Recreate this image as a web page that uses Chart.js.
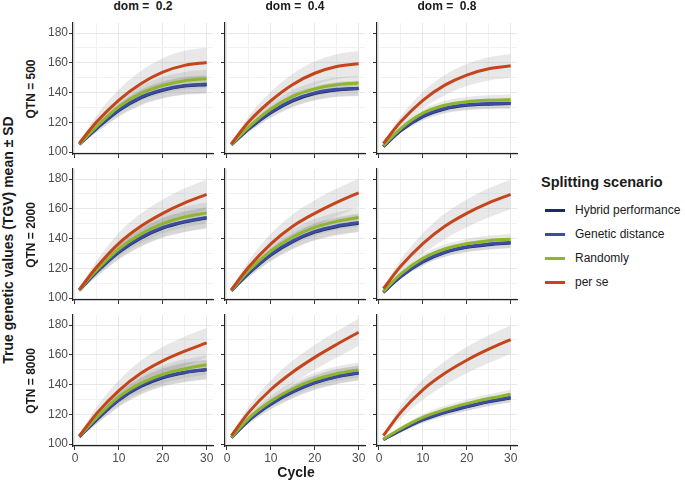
<!DOCTYPE html>
<html><head><meta charset="utf-8">
<script src="https://cdn.jsdelivr.net/npm/chart.js@4.4.1/dist/chart.umd.min.js"></script>
<style>
html,body{margin:0;padding:0;background:#fff;}
body{width:685px;height:482px;position:relative;overflow:hidden;font-family:"Liberation Sans",Arial,sans-serif;}
canvas{position:absolute;}
.t{position:absolute;white-space:pre;color:#1a1a1a;}
.key{position:absolute;height:3px;width:20px;}
</style></head><body>
<script>
// ---- data ----
const cycles = [1, 5, 10, 15, 20, 25, 30];
const scenarios = ['Hybrid performance', 'Genetic distance', 'Randomly', 'per se'];
const domLevels = ['0.2', '0.4', '0.8'];
const qtnLevels = ['500', '2000', '8000'];
const xTicks = [0, 5, 10, 15, 20, 25, 30];
const yTicks = [100, 110, 120, 130, 140, 150, 160, 170, 180];

// QTN = 500
const hp_500_02 = [105.2, 116.0, 128.0, 136.5, 141.6, 144.4, 145.3];
const gd_500_02 = [105.3, 116.3, 128.5, 137.0, 142.0, 144.8, 145.7];
const rd_500_02 = [105.5, 117.5, 130.5, 139.5, 144.8, 148.0, 149.3];
const ps_500_02 = [106.0, 120.5, 135.0, 146.0, 153.8, 158.3, 160.3];
const sdP_500_02 = [1, 4.5, 7, 8.5, 9.3, 9.8, 10];
const sdO_500_02 = [0.6, 2.7, 4.2, 5.1, 5.6, 5.9, 6];

const hp_500_04 = [104.8, 115.7, 126.5, 134.5, 139.4, 141.8, 142.7];
const gd_500_04 = [104.9, 116.0, 127.0, 135.0, 139.8, 142.2, 143.0];
const rd_500_04 = [105.0, 117.0, 129.0, 137.5, 142.5, 145.3, 146.4];
const ps_500_04 = [105.6, 120.5, 134.5, 145.5, 153.0, 157.5, 159.4];
const sdP_500_04 = [0.9, 3.8, 6, 7.2, 7.9, 8.3, 8.5];
const sdO_500_04 = [0.5, 2.3, 3.5, 4.3, 4.7, 4.9, 5];

const hp_500_08 = [103.6, 114.4, 123.8, 129.0, 131.4, 132.2, 132.6];
const gd_500_08 = [103.8, 114.7, 124.3, 129.5, 131.8, 132.6, 132.9];
const rd_500_08 = [104.3, 116.0, 126.2, 131.5, 133.8, 134.8, 135.2];
const ps_500_08 = [105.8, 120.5, 134.8, 145.0, 151.8, 156.0, 158.0];
const sdP_500_08 = [0.8, 3.6, 5.6, 6.8, 7.4, 7.8, 8];
const sdO_500_08 = [0.4, 1.6, 2.5, 3, 3.3, 3.4, 3.5];

// QTN = 2000
const hp_2000_02 = [105.2, 117.7, 130.8, 140.3, 147.0, 151.1, 153.8];
const gd_2000_02 = [105.3, 118.0, 131.3, 140.8, 147.5, 151.5, 154.2];
const rd_2000_02 = [105.5, 119.0, 133.0, 143.0, 150.0, 154.5, 157.3];
const ps_2000_02 = [105.8, 121.0, 136.8, 148.3, 157.0, 164.0, 169.7];
const sdP_2000_02 = [1, 4.5, 7, 8.5, 9.3, 9.8, 10];
const sdO_2000_02 = [0.7, 3.2, 4.9, 6, 6.5, 6.9, 7];

const hp_2000_04 = [104.9, 116.7, 129.0, 138.0, 144.3, 148.0, 150.3];
const gd_2000_04 = [105.0, 117.0, 129.5, 138.5, 144.8, 148.5, 150.8];
const rd_2000_04 = [105.2, 118.7, 131.7, 141.1, 147.5, 151.6, 154.2];
const ps_2000_04 = [105.6, 121.0, 136.5, 148.3, 157.0, 164.4, 170.8];
const sdP_2000_04 = [1, 4.3, 6.7, 8.1, 8.8, 9.3, 9.5];
const sdO_2000_04 = [0.6, 2.7, 4.2, 5.1, 5.6, 5.9, 6];

const hp_2000_08 = [103.9, 114.5, 124.3, 130.6, 134.1, 135.9, 137.0];
const gd_2000_08 = [104.0, 114.8, 124.7, 131.0, 134.5, 136.3, 137.3];
const rd_2000_08 = [104.5, 116.2, 126.7, 133.0, 136.5, 138.6, 139.6];
const ps_2000_08 = [106.3, 121.5, 136.6, 148.3, 157.0, 164.0, 169.7];
const sdP_2000_08 = [1, 4.5, 7, 8.5, 9.3, 9.8, 10];
const sdO_2000_08 = [0.4, 1.6, 2.5, 3, 3.3, 3.4, 3.5];

// QTN = 8000
const hp_8000_02 = [104.9, 116.5, 129.6, 138.7, 144.6, 148.0, 150.0];
const gd_8000_02 = [105.0, 116.8, 130.0, 139.2, 145.0, 148.3, 150.3];
const rd_8000_02 = [105.2, 118.1, 131.7, 140.8, 146.8, 150.6, 153.3];
const ps_8000_02 = [105.4, 120.8, 136.0, 147.6, 156.0, 162.5, 168.0];
const sdP_8000_02 = [1, 4.5, 7, 8.5, 9.3, 9.8, 10];
const sdO_8000_02 = [0.7, 2.9, 4.6, 5.5, 6, 6.4, 6.5];

const hp_8000_04 = [104.3, 116.0, 126.8, 135.0, 141.1, 145.2, 147.7];
const gd_8000_04 = [104.4, 116.3, 127.3, 135.5, 141.5, 145.5, 148.0];
const rd_8000_04 = [104.6, 117.5, 128.8, 137.2, 143.3, 147.3, 149.9];
const ps_8000_04 = [105.7, 121.5, 136.7, 148.5, 158.3, 167.0, 175.2];
const sdP_8000_04 = [0.9, 4, 6.3, 7.7, 8.4, 8.8, 9];
const sdO_8000_04 = [0.5, 2.3, 3.5, 4.3, 4.7, 4.9, 5];

const hp_8000_08 = [103.0, 109.2, 116.2, 121.2, 125.0, 128.4, 131.0];
const gd_8000_08 = [103.1, 109.5, 116.6, 121.6, 125.3, 128.7, 131.3];
const rd_8000_08 = [103.3, 110.5, 118.0, 123.1, 127.2, 130.6, 133.5];
const ps_8000_08 = [105.7, 121.5, 136.5, 147.6, 156.4, 163.8, 170.3];
const sdP_8000_08 = [1, 4.3, 6.7, 8.1, 8.8, 9.3, 9.5];
const sdO_8000_08 = [0.3, 1.4, 2.1, 2.6, 2.8, 2.9, 3];

const panelData = [
  [[hp_500_02, gd_500_02, rd_500_02, ps_500_02, sdO_500_02, sdP_500_02],
   [hp_500_04, gd_500_04, rd_500_04, ps_500_04, sdO_500_04, sdP_500_04],
   [hp_500_08, gd_500_08, rd_500_08, ps_500_08, sdO_500_08, sdP_500_08]],
  [[hp_2000_02, gd_2000_02, rd_2000_02, ps_2000_02, sdO_2000_02, sdP_2000_02],
   [hp_2000_04, gd_2000_04, rd_2000_04, ps_2000_04, sdO_2000_04, sdP_2000_04],
   [hp_2000_08, gd_2000_08, rd_2000_08, ps_2000_08, sdO_2000_08, sdP_2000_08]],
  [[hp_8000_02, gd_8000_02, rd_8000_02, ps_8000_02, sdO_8000_02, sdP_8000_02],
   [hp_8000_04, gd_8000_04, rd_8000_04, ps_8000_04, sdO_8000_04, sdP_8000_04],
   [hp_8000_08, gd_8000_08, rd_8000_08, ps_8000_08, sdO_8000_08, sdP_8000_08]]
];

// ---- style / layout ----
const colors = ['#1d2a68', '#3a4da0', '#8fb52b', '#c4451c'];
const ribbonFill = 'rgba(140,140,140,0.2)';
const FONT = '"Liberation Sans", Arial, sans-serif';
const colLeft = [73, 225, 377];
const rowTop = [23, 169, 315];
const plotW = 140, plotH = 131;
const yAxisW = 30, xAxisH = 20, padTop = 6, padRight = 10;

function addText(txt, x, y, size, bold, opts) {
  const d = document.createElement('div');
  d.className = 't';
  d.textContent = txt;
  d.style.fontSize = size + 'px';
  d.style.lineHeight = (size + 2) + 'px';
  d.style.fontWeight = bold ? 'bold' : 'normal';
  d.style.left = x + 'px';
  d.style.top = y + 'px';
  let tr = 'translate(-50%,-50%)';
  if (opts && opts.rotate) tr += ' rotate(-90deg)';
  if (opts && opts.noCenter) tr = '';
  d.style.transform = tr;
  document.body.appendChild(d);
  return d;
}

function makePanel(r, c) {
  const pd = panelData[r][c];
  const cv = document.createElement('canvas');
  const W = yAxisW + plotW + padRight, H = padTop + plotH + xAxisH;
  cv.width = W; cv.height = H;
  cv.style.left = (colLeft[c] - yAxisW) + 'px';
  cv.style.top = (rowTop[r] - padTop) + 'px';
  document.body.appendChild(cv);

  const datasets = [];
  for (let s = 0; s < 4; s++) {
    const mean = pd[s];
    const sd = s === 3 ? pd[5] : pd[4];
    const lowIdx = datasets.length;
    datasets.push({
      data: cycles.map((x, i) => ({ x: x, y: mean[i] - sd[i] })),
      borderWidth: 0, pointRadius: 0, fill: false, order: 100,
      cubicInterpolationMode: 'monotone', borderColor: 'rgba(0,0,0,0)'
    });
    datasets.push({
      data: cycles.map((x, i) => ({ x: x, y: mean[i] + sd[i] })),
      borderWidth: 0, pointRadius: 0, fill: { target: lowIdx }, order: 100,
      backgroundColor: ribbonFill, borderColor: 'rgba(0,0,0,0)',
      cubicInterpolationMode: 'monotone'
    });
  }
  for (let s = 0; s < 4; s++) {
    datasets.push({
      label: scenarios[s],
      data: cycles.map((x, i) => ({ x: x, y: pd[s][i] })),
      borderColor: colors[s], borderWidth: 3, pointRadius: 0, fill: false,
      order: 3 - s, cubicInterpolationMode: 'monotone', borderCapStyle: 'butt'
    });
  }
  const showY = c === 0, showX = r === 2;
  const isMajX = v => v % 10 === 0, isMajY = v => v % 20 === 0;
  new Chart(cv, {
    type: 'line',
    data: { datasets },
    options: {
      responsive: false, animation: false, events: [],
      layout: { padding: { top: padTop, right: padRight, left: 0, bottom: 0 } },
      plugins: { legend: { display: false }, tooltip: { enabled: false } },
      scales: {
        x: {
          type: 'linear', min: -0.45, max: 31.45,
          afterBuildTicks: s => { s.ticks = xTicks.map(v => ({ value: v })); },
          afterFit: s => { s.height = xAxisH; s.paddingLeft = 0; s.paddingRight = 0; },
          grid: {
            color: ctx => (ctx.tick && isMajX(ctx.tick.value)) ? '#e8e8e8' : '#f2f2f2',
            lineWidth: 1,
            tickColor: ctx => (ctx.tick && isMajX(ctx.tick.value)) ? '#333333' : 'rgba(0,0,0,0)',
            tickLength: 4, tickWidth: 1, drawTicks: true
          },
          border: { display: true, color: '#222222', width: 1.2 },
          ticks: {
            autoSkip: false, maxRotation: 0, minRotation: 0, padding: 1,
            color: showX ? '#4d4d4d' : 'rgba(0,0,0,0)',
            font: { family: FONT, size: 12 },
            callback: v => isMajX(v) ? String(v) : ''
          }
        },
        y: {
          type: 'linear', min: 98.7, max: 186.8,
          afterBuildTicks: s => { s.ticks = yTicks.map(v => ({ value: v })); },
          afterFit: s => { s.width = yAxisW; s.paddingTop = 0; s.paddingBottom = 0; },
          grid: {
            color: ctx => (ctx.tick && isMajY(ctx.tick.value)) ? '#e8e8e8' : '#f2f2f2',
            lineWidth: 1,
            tickColor: ctx => (ctx.tick && isMajY(ctx.tick.value)) ? '#333333' : 'rgba(0,0,0,0)',
            tickLength: 4, tickWidth: 1, drawTicks: true
          },
          border: { display: true, color: '#222222', width: 1.2 },
          ticks: {
            autoSkip: false, padding: 1,
            color: showY ? '#4d4d4d' : 'rgba(0,0,0,0)',
            font: { family: FONT, size: 12 },
            callback: v => isMajY(v) ? String(v) : ''
          }
        }
      }
    }
  });
}

for (let r = 0; r < 3; r++) for (let c = 0; c < 3; c++) makePanel(r, c);

// strip labels
for (let c = 0; c < 3; c++) addText('dom =  ' + domLevels[c], colLeft[c] + plotW / 2, 6, 12, true);
for (let r = 0; r < 3; r++) addText('QTN = ' + qtnLevels[r], 31, rowTop[r] + plotH / 2, 12, true, { rotate: true });
// axis titles
addText('True genetic values (TGV) mean \u00b1 SD', 7.5, 240, 14, true, { rotate: true });
addText('Cycle', 296, 472, 14, true);
// legend
addText('Splitting scenario', 541, 174, 14.5, true, { noCenter: true });
const keyY = [210, 234, 258, 282];
for (let s = 0; s < 4; s++) {
  const k = document.createElement('div');
  k.className = 'key';
  k.style.left = '545px';
  k.style.top = (keyY[s] - 1.5) + 'px';
  k.style.background = colors[s];
  document.body.appendChild(k);
  addText(scenarios[s], 575, keyY[s] - 7, 12, false, { noCenter: true });
}
</script>
</body></html>
